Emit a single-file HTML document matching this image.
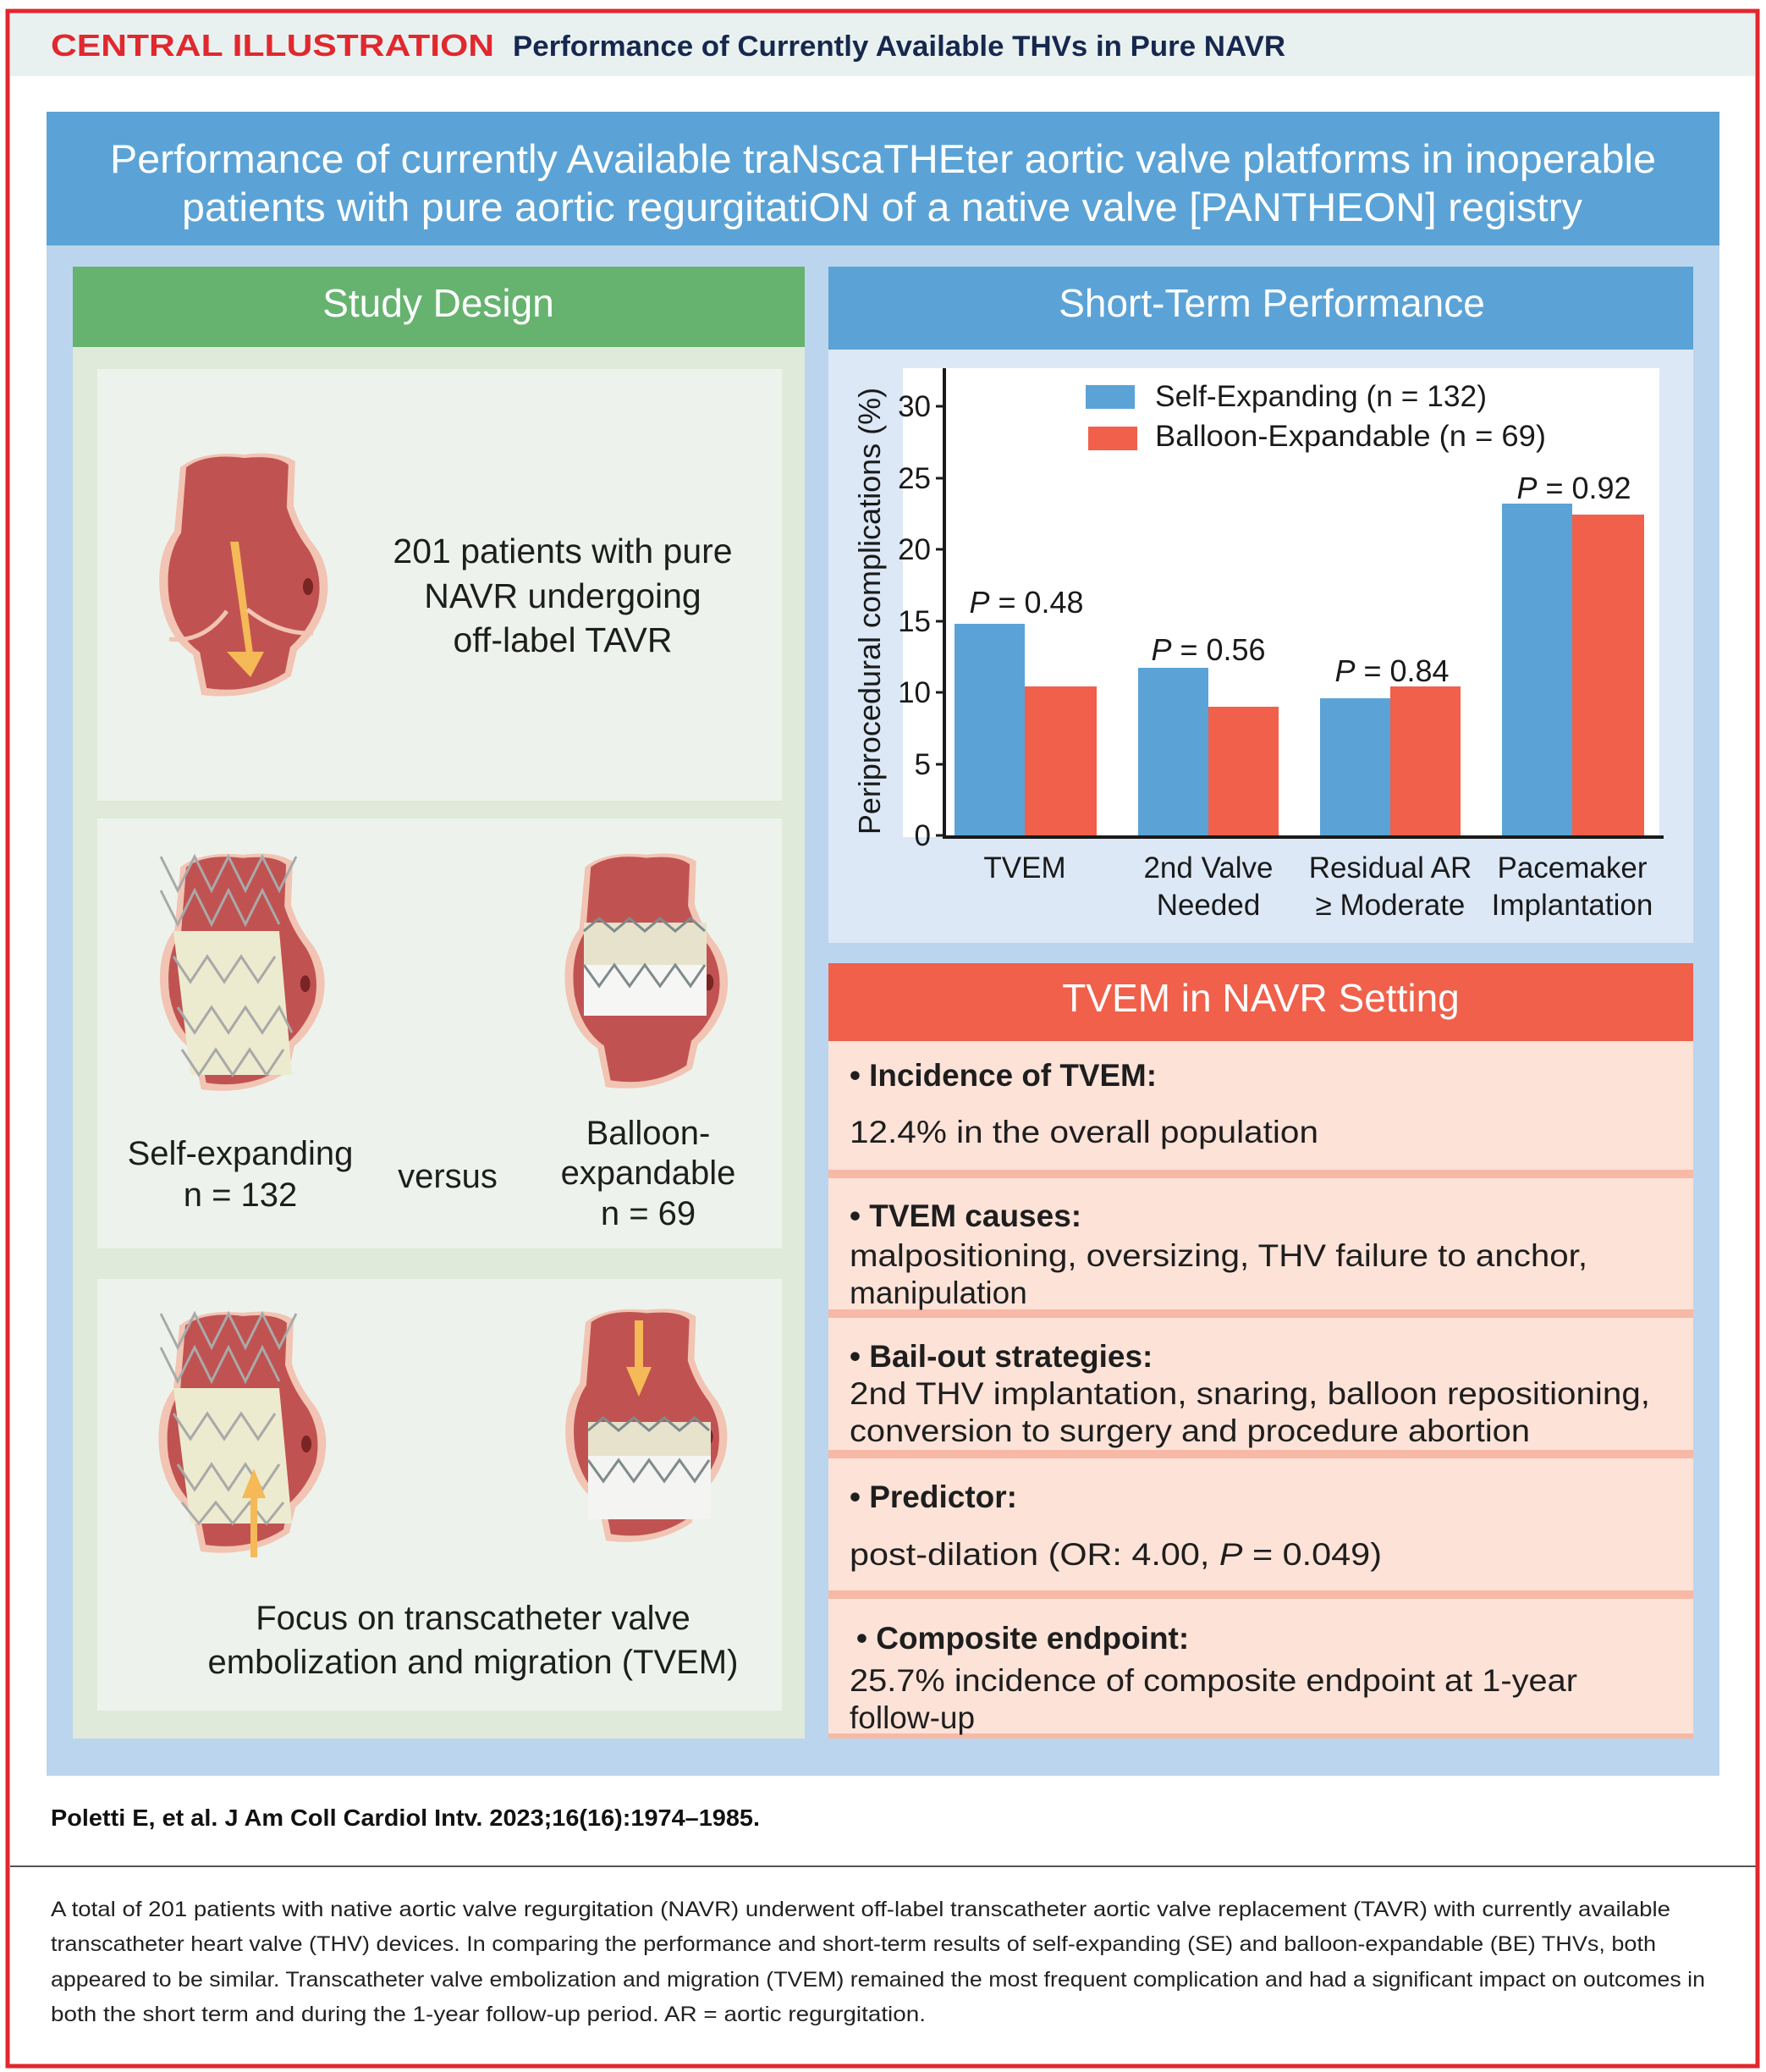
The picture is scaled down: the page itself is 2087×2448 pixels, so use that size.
<!DOCTYPE html>
<html><head><meta charset="utf-8"><style>
html,body{margin:0;padding:0;background:#fff}
svg{display:block}
text{font-family:"Liberation Sans",sans-serif}
</style></head><body>
<svg width="2087" height="2448" viewBox="0 0 2087 2448" xmlns="http://www.w3.org/2000/svg">
<defs>
<symbol id="ao" viewBox="0 0 215 300">
<path d="M35,25 Q60,5 110,10 Q150,5 170,18 L168,70 Q175,95 195,120 Q215,150 205,190 Q195,220 172,240 L165,270 Q120,300 60,292 L50,245 Q20,225 12,180 Q5,130 28,100 Z" fill="#f2c4b4"/>
<path d="M42,25 Q65,8 110,14 Q148,10 162,22 L160,72 Q168,98 186,122 Q204,152 196,188 Q186,216 164,236 L158,266 Q118,292 66,284 L58,242 Q30,222 22,180 Q16,132 36,102 Z" fill="#c05351"/>
<ellipse cx="185" cy="165" rx="6" ry="10" fill="#7a2424"/>
</symbol>
</defs>
<rect x="0" y="0" width="2087" height="2448" fill="#fff"/>
<rect x="9" y="13" width="2068" height="2428" fill="none" stroke="#e1262d" stroke-width="5"/>
<rect x="12" y="16" width="2062" height="74" fill="#e9f1f0"/>
<text x="60" y="66" font-size="36" font-weight="bold" fill="#e0282e" textLength="524" lengthAdjust="spacingAndGlyphs">CENTRAL ILLUSTRATION</text>
<text x="606" y="66" font-size="34" font-weight="bold" fill="#17284f" textLength="913" lengthAdjust="spacingAndGlyphs">Performance of Currently Available THVs in Pure NAVR</text>

<rect x="55" y="290" width="1977" height="1808" fill="#bcd5ee"/>
<rect x="55" y="132" width="1977" height="158" fill="#5ba3d6"/>
<text x="130" y="204" font-size="47" fill="#fff" textLength="1827" lengthAdjust="spacingAndGlyphs">Performance of currently Available traNscaTHEter aortic valve platforms in inoperable</text>
<text x="215" y="261" font-size="47" fill="#fff" textLength="1655" lengthAdjust="spacingAndGlyphs">patients with pure aortic regurgitatiON of a native valve [PANTHEON] registry</text>

<rect x="86" y="315" width="865" height="95" fill="#66b36f"/>
<text x="518" y="374" font-size="46" fill="#fff" text-anchor="middle">Study Design</text>
<rect x="86" y="410" width="865" height="1644" fill="#dfeadb"/>
<rect x="115" y="436" width="809" height="510" fill="#edf3ec"/>
<rect x="115" y="967" width="809" height="508" fill="#edf3ec"/>
<rect x="115" y="1511" width="809" height="510" fill="#edf3ec"/>

<use href="#ao" x="170" y="527" width="232" height="302"/>
<path d="M272,640 L292,780 L300,780 L282,640 Z" fill="#f5b958"/>
<path d="M268,770 L312,770 L296,800 Z" fill="#f5b958"/>
<path d="M200,755 Q240,760 268,722 M292,720 Q330,750 370,748" stroke="#f2c4b4" stroke-width="5" fill="none"/>
<g font-size="41" fill="#1e1e1e" text-anchor="middle">
<text x="665" y="665">201 patients with pure</text>
<text x="665" y="718">NAVR undergoing</text>
<text x="665" y="770">off-label TAVR</text>
</g>

<use href="#ao" x="177" y="1000" width="215" height="295"/>
<g>
<path d="M205,1100 L330,1100 L345,1270 L225,1270 Z" fill="#ecebcf"/>
<path d="M190,1012 l20,40 l20,-40 l20,40 l20,-40 l20,40 l20,-40 l20,40 l20,-40 M190,1052 l20,40 l20,-40 l20,40 l20,-40 l20,40 l20,-40 l20,40 M205,1130 l20,30 l20,-30 l20,30 l20,-30 l20,30 l20,-30 M210,1190 l20,30 l20,-30 l20,30 l20,-30 l20,30 l20,-30 l15,30 M215,1240 l20,30 l20,-30 l20,30 l20,-30 l20,30 l20,-30" stroke="#a9a9a9" stroke-width="3" fill="none"/>
</g>
<use href="#ao" x="656" y="1000" width="212" height="292"/>
<rect x="690" y="1090" width="145" height="50" fill="#e7e2cc"/>
<rect x="690" y="1140" width="145" height="60" fill="#f6f6f4"/>
<path d="M690,1100 l18,-15 l18,15 l18,-15 l18,15 l18,-15 l18,15 l18,-15 l17,15 M690,1140 l18,25 l18,-25 l18,25 l18,-25 l18,25 l18,-25 l18,25 l17,-25" stroke="#7f8b8d" stroke-width="3" fill="none"/>
<g font-size="40" fill="#1e1e1e" text-anchor="middle">
<text x="284" y="1376">Self-expanding</text>
<text x="284" y="1425">n = 132</text>
<text x="529" y="1403">versus</text>
<text x="766" y="1352">Balloon-</text>
<text x="766" y="1399">expandable</text>
<text x="766" y="1447">n = 69</text>
</g>

<use href="#ao" x="177" y="1538" width="215" height="306"/>
<path d="M205,1640 L330,1640 L345,1800 L225,1800 Z" fill="#ecebcf"/>
<path d="M190,1552 l20,40 l20,-40 l20,40 l20,-40 l20,40 l20,-40 l20,40 l20,-40 M190,1592 l20,40 l20,-40 l20,40 l20,-40 l20,40 l20,-40 l20,40 M205,1670 l20,30 l20,-30 l20,30 l20,-30 l20,30 l20,-30 M210,1730 l20,30 l20,-30 l20,30 l20,-30 l20,30 l20,-30 M215,1775 l20,25 l20,-25 l20,25 l20,-25 l20,25 l20,-25" stroke="#a9a9a9" stroke-width="3" fill="none"/>
<path d="M296,1840 L304,1840 L304,1760 L296,1760 Z" fill="#f5b958"/>
<path d="M286,1770 L314,1770 L300,1735 Z" fill="#f5b958"/>
<use href="#ao" x="656" y="1538" width="212" height="290"/>
<rect x="695" y="1680" width="145" height="70" fill="#e7e2cc"/>
<rect x="695" y="1720" width="145" height="75" fill="#f4f4f2"/>
<path d="M695,1690 l18,-15 l18,15 l18,-15 l18,15 l18,-15 l18,15 l18,-15 l17,15 M695,1725 l18,25 l18,-25 l18,25 l18,-25 l18,25 l18,-25 l18,25 l17,-25" stroke="#7f8b8d" stroke-width="3" fill="none"/>
<path d="M750,1560 L760,1560 L760,1620 L750,1620 Z" fill="#f5b958"/>
<path d="M740,1615 L770,1615 L755,1650 Z" fill="#f5b958"/>
<g font-size="40" fill="#1e1e1e" text-anchor="middle">
<text x="559" y="1925">Focus on transcatheter valve</text>
<text x="559" y="1977">embolization and migration (TVEM)</text>
</g>

<rect x="979" y="315" width="1022" height="98" fill="#5ba3d6"/>
<text x="1503" y="374" font-size="46" fill="#fff" text-anchor="middle">Short-Term Performance</text>
<rect x="979" y="413" width="1022" height="701" fill="#dce8f6"/>
<rect x="1067" y="435" width="894" height="554" fill="#fff"/>
<g fill="#5ba3d6">
<rect x="1128" y="737" width="83" height="250"/>
<rect x="1345" y="789" width="83" height="198"/>
<rect x="1560" y="825" width="83" height="162"/>
<rect x="1775" y="595" width="83" height="392"/>
</g>
<g fill="#f0604a">
<rect x="1211" y="811" width="85" height="176"/>
<rect x="1428" y="835" width="83" height="152"/>
<rect x="1643" y="811" width="83" height="176"/>
<rect x="1858" y="608" width="85" height="379"/>
</g>
<path d="M1116,435 L1116,989 L1966,989" stroke="#1a1a1a" stroke-width="4" fill="none"/>
<g stroke="#1a1a1a" stroke-width="3">
<line x1="1106" y1="987" x2="1116" y2="987"/><line x1="1106" y1="903" x2="1116" y2="903"/>
<line x1="1106" y1="818" x2="1116" y2="818"/><line x1="1106" y1="734" x2="1116" y2="734"/>
<line x1="1106" y1="649" x2="1116" y2="649"/><line x1="1106" y1="565" x2="1116" y2="565"/>
<line x1="1106" y1="480" x2="1116" y2="480"/>
</g>
<g font-size="35" fill="#1a1a1a" text-anchor="end">
<text x="1100" y="999">0</text><text x="1100" y="915">5</text><text x="1100" y="830">10</text>
<text x="1100" y="746">15</text><text x="1100" y="661">20</text><text x="1100" y="577">25</text>
<text x="1100" y="492">30</text>
</g>
<text transform="translate(1040,722) rotate(-90)" font-size="36" fill="#1a1a1a" text-anchor="middle">Periprocedural complications (%)</text>
<rect x="1283" y="455" width="58" height="28" fill="#5ba3d6"/>
<rect x="1286" y="504" width="58" height="28" fill="#f0604a"/>
<text x="1365" y="480" font-size="35" fill="#1a1a1a" textLength="392" lengthAdjust="spacingAndGlyphs">Self-Expanding (n = 132)</text>
<text x="1365" y="527" font-size="35" fill="#1a1a1a" textLength="462" lengthAdjust="spacingAndGlyphs">Balloon-Expandable (n = 69)</text>
<g font-size="36" fill="#1a1a1a" text-anchor="middle">
<text x="1213" y="724"><tspan font-style="italic">P</tspan> = 0.48</text>
<text x="1428" y="780"><tspan font-style="italic">P</tspan> = 0.56</text>
<text x="1645" y="805"><tspan font-style="italic">P</tspan> = 0.84</text>
<text x="1860" y="589"><tspan font-style="italic">P</tspan> = 0.92</text>
</g>
<g font-size="35" fill="#1a1a1a" text-anchor="middle">
<text x="1211" y="1037">TVEM</text>
<text x="1428" y="1037">2nd Valve</text><text x="1428" y="1081">Needed</text>
<text x="1643" y="1037">Residual AR</text><text x="1643" y="1081">≥ Moderate</text>
<text x="1858" y="1037">Pacemaker</text><text x="1858" y="1081">Implantation</text>
</g>

<rect x="979" y="1138" width="1022" height="92" fill="#f0604a"/>
<text x="1490" y="1195" font-size="46" fill="#fff" text-anchor="middle">TVEM in NAVR Setting</text>
<rect x="979" y="1230" width="1022" height="824" fill="#fce2d7"/>
<g fill="#f7b9a5">
<rect x="979" y="1382" width="1022" height="10"/>
<rect x="979" y="1547" width="1022" height="10"/>
<rect x="979" y="1713" width="1022" height="10"/>
<rect x="979" y="1879" width="1022" height="10"/>
<rect x="979" y="2048" width="1022" height="6"/>
</g>
<g font-size="37" fill="#1e1e1e">
<text x="1004" y="1283" font-weight="bold" textLength="363" lengthAdjust="spacingAndGlyphs">• Incidence of TVEM:</text>
<text x="1004" y="1350" textLength="554" lengthAdjust="spacingAndGlyphs">12.4% in the overall population</text>
<text x="1004" y="1449" font-weight="bold">• TVEM causes:</text>
<text x="1004" y="1496" textLength="872" lengthAdjust="spacingAndGlyphs">malpositioning, oversizing, THV failure to anchor,</text>
<text x="1004" y="1540">manipulation</text>
<text x="1004" y="1615" font-weight="bold">• Bail-out strategies:</text>
<text x="1004" y="1659" textLength="946" lengthAdjust="spacingAndGlyphs">2nd THV implantation, snaring, balloon repositioning,</text>
<text x="1004" y="1703" textLength="804" lengthAdjust="spacingAndGlyphs">conversion to surgery and procedure abortion</text>
<text x="1004" y="1781" font-weight="bold">• Predictor:</text>
<text x="1004" y="1849" textLength="629" lengthAdjust="spacingAndGlyphs">post-dilation (OR: 4.00, <tspan font-style="italic">P</tspan> = 0.049)</text>
<text x="1012" y="1948" font-weight="bold">• Composite endpoint:</text>
<text x="1004" y="1998" textLength="860" lengthAdjust="spacingAndGlyphs">25.7% incidence of composite endpoint at 1-year</text>
<text x="1004" y="2042">follow-up</text>
</g>

<text x="60" y="2157" font-size="28" font-weight="bold" fill="#111" textLength="838" lengthAdjust="spacingAndGlyphs">Poletti E, et al. J Am Coll Cardiol Intv. 2023;16(16):1974–1985.</text>
<line x1="12" y1="2205" x2="2075" y2="2205" stroke="#555" stroke-width="2"/>
<g font-size="25" fill="#222">
<text x="60" y="2264" textLength="1914" lengthAdjust="spacingAndGlyphs">A total of 201 patients with native aortic valve regurgitation (NAVR) underwent off-label transcatheter aortic valve replacement (TAVR) with currently available</text>
<text x="60" y="2305" textLength="1897" lengthAdjust="spacingAndGlyphs">transcatheter heart valve (THV) devices. In comparing the performance and short-term results of self-expanding (SE) and balloon-expandable (BE) THVs, both</text>
<text x="60" y="2347" textLength="1955" lengthAdjust="spacingAndGlyphs">appeared to be similar. Transcatheter valve embolization and migration (TVEM) remained the most frequent complication and had a significant impact on outcomes in</text>
<text x="60" y="2388" textLength="1034" lengthAdjust="spacingAndGlyphs">both the short term and during the 1-year follow-up period. AR = aortic regurgitation.</text>
</g>
</svg>
</body></html>
